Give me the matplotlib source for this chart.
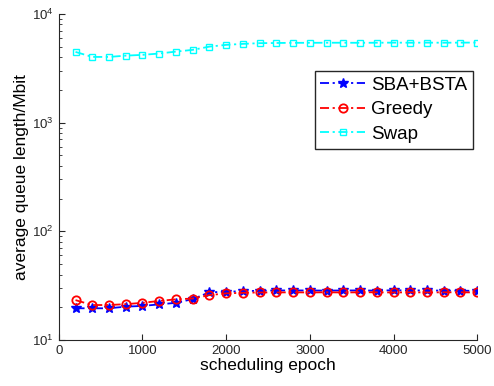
import matplotlib
matplotlib.use("Agg")
import matplotlib.pyplot as plt
from matplotlib.ticker import LogLocator, FixedLocator

plt.rcParams["font.family"] = ["Liberation Sans", "DejaVu Sans"]

epochs = [200, 400, 600, 800, 1000, 1200, 1400, 1600, 1800, 2000, 2200, 2400, 2600,
          2800, 3000, 3200, 3400, 3600, 3800, 4000, 4200, 4400, 4600, 4800, 5000]
sba_bsta = [19.6, 19.6, 19.6, 20.3, 20.6, 21.3, 22.0, 23.8, 27.5, 27.8, 28.2, 28.4, 28.6,
            28.6, 28.6, 28.5, 28.6, 28.6, 28.5, 28.7, 28.6, 28.6, 28.5, 28.5, 28.3]
greedy = [23.3, 21.0, 21.0, 21.4, 22.0, 22.9, 23.7, 24.1, 25.9, 26.9, 27.2, 27.4, 27.4,
          27.5, 27.4, 27.5, 27.4, 27.5, 27.5, 27.4, 27.5, 27.4, 27.5, 27.5, 27.4]
swap = [4470, 4020, 4020, 4130, 4200, 4320, 4500, 4670, 5000, 5190, 5300, 5380, 5400,
        5420, 5420, 5430, 5430, 5420, 5430, 5440, 5430, 5440, 5430, 5440, 5450]

dashdot = (0, (5, 2, 1.2, 2))

fig = plt.figure(figsize=(4.94, 3.86), dpi=100)
ax = fig.add_axes([0.119, 0.119, 0.847, 0.845])

ax.plot(epochs, sba_bsta, color="#0000FF", linestyle=dashdot, linewidth=1.3,
        marker="*", markersize=7, label="SBA+BSTA")
ax.plot(epochs, greedy, color="#FF0000", linestyle=dashdot, linewidth=1.3,
        marker="o", markersize=6, markerfacecolor="none", markeredgewidth=1.3,
        label="Greedy")
ax.plot(epochs, swap, color="#00FFFF", linestyle=dashdot, linewidth=1.3,
        marker="s", markersize=5, markerfacecolor="none", markeredgewidth=1.0,
        label="Swap")

ax.set_yscale("log")
ax.set_xlim(0, 5000)
ax.set_ylim(10, 10000)
ax.xaxis.set_major_locator(FixedLocator([0, 1000, 2000, 3000, 4000, 5000]))
ax.yaxis.set_major_locator(LogLocator(base=10, numticks=10))
ax.yaxis.set_minor_locator(LogLocator(base=10, subs=range(2, 10), numticks=10))

for s in ["top", "right"]:
    ax.spines[s].set_visible(False)
for s in ["left", "bottom"]:
    ax.spines[s].set_color("#262626")
    ax.spines[s].set_linewidth(0.8)

ax.tick_params(which="both", direction="in", colors="#262626", labelsize=9.5)
ax.tick_params(which="major", length=4)
ax.tick_params(which="minor", length=2)

ax.set_xlabel("scheduling epoch", fontsize=12.5, labelpad=1)
ax.set_ylabel("average queue length/Mbit", fontsize=12.5, labelpad=2)

ax.legend(loc="upper left", bbox_to_anchor=(0.612, 0.825), fontsize=13.5,
          frameon=True, fancybox=False, edgecolor="#262626", framealpha=1,
          handlelength=2.4, handletextpad=0.3, borderpad=0.3, labelspacing=0.4,
          borderaxespad=0)

fig.savefig("out.png", dpi=100)
